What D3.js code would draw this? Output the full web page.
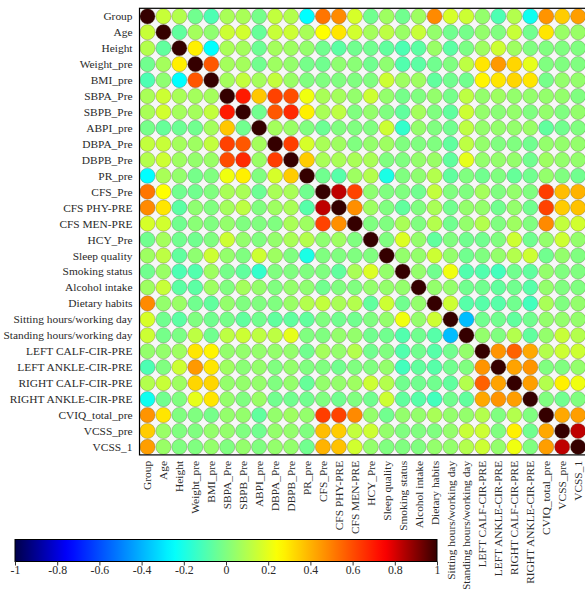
<!DOCTYPE html>
<html>
<head>
<meta charset="utf-8">
<script src="https://cdn.jsdelivr.net/npm/d3@7"></script>
<style>
  body { margin: 0; background: #fff; }
  text { font-family: "Liberation Serif", "Times New Roman", serif; fill: #2a2a2a; }
</style>
</head>
<body>
<svg id="chart" width="585" height="589"></svg>
<script>
// variables, in row / column order
const varNames = [
  "Group", "Age", "Height", "Weight_pre", "BMI_pre", "SBPA_Pre", "SBPB_Pre",
  "ABPI_pre", "DBPA_Pre", "DBPB_Pre", "PR_pre", "CFS_Pre", "CFS PHY-PRE",
  "CFS MEN-PRE", "HCY_Pre", "Sleep quality", "Smoking status", "Alcohol intake",
  "Dietary habits", "Sitting hours/working day", "Standing hours/working day",
  "LEFT CALF-CIR-PRE", "LEFT ANKLE-CIR-PRE", "RIGHT CALF-CIR-PRE",
  "RIGHT ANKLE-CIR-PRE", "CVIQ_total_pre", "VCSS_pre", "VCSS_1"
];

// upper triangle: row i holds r(i, j) for j = i+1 .. 27
const corrRows = [
  [0.14, 0.10, -0.03, -0.10, 0.08, 0.08, -0.02, 0.13, 0.10, -0.25, 0.52, 0.48, 0.17, -0.03, 0.06, -0.03, 0.06, 0.48, 0.17, 0.15, 0.04, -0.10, 0.10, -0.22, 0.46, 0.35, 0.44],
  [-0.06, 0.07, 0.03, 0.15, 0.16, -0.05, 0.14, 0.15, 0.08, 0.25, 0.30, 0.16, 0.07, 0.12, 0.05, 0.14, 0.04, -0.03, -0.02, 0.04, 0.00, 0.14, -0.03, 0.30, 0.05, 0.05],
  [0.28, -0.25, 0.08, 0.07, -0.04, 0.07, 0.06, 0.04, -0.03, -0.07, -0.03, -0.03, -0.06, -0.10, -0.07, 0.05, -0.07, -0.01, 0.06, 0.15, 0.06, 0.00, 0.00, 0.00, 0.00],
  [0.58, 0.07, 0.07, -0.03, 0.06, 0.04, -0.02, -0.03, 0.03, 0.02, -0.03, 0.03, -0.09, -0.07, -0.03, 0.00, 0.12, 0.30, 0.45, 0.33, 0.20, 0.00, 0.00, 0.00],
  [0.07, 0.13, 0.07, 0.13, 0.05, 0.00, 0.00, 0.00, 0.00, 0.00, 0.15, 0.06, 0.06, -0.06, -0.03, -0.03, 0.27, 0.30, 0.33, 0.30, -0.02, 0.04, 0.04],
  [0.70, 0.36, 0.62, 0.60, 0.22, 0.08, 0.07, 0.04, 0.15, 0.04, -0.02, 0.00, 0.04, -0.02, 0.12, 0.04, 0.06, 0.04, 0.04, 0.04, 0.04, 0.00],
  [-0.03, 0.58, 0.67, 0.28, 0.08, 0.12, 0.00, 0.04, 0.00, -0.06, 0.07, 0.00, -0.06, 0.15, 0.04, 0.02, 0.04, 0.00, 0.04, 0.00, 0.04],
  [0.07, 0.05, 0.00, -0.04, 0.00, 0.00, 0.00, 0.15, -0.15, 0.04, 0.00, -0.03, 0.12, 0.04, 0.04, 0.04, 0.05, -0.06, -0.03, 0.00],
  [0.63, 0.17, 0.08, 0.06, 0.00, 0.04, 0.06, 0.00, 0.00, 0.00, -0.06, 0.12, 0.04, 0.00, 0.00, -0.03, 0.04, 0.04, 0.04],
  [0.35, 0.08, 0.08, 0.08, 0.08, 0.00, 0.00, 0.04, 0.05, -0.06, 0.20, 0.04, 0.04, 0.04, -0.03, 0.06, 0.04, 0.04],
  [-0.03, -0.08, 0.06, 0.10, -0.20, 0.00, 0.03, 0.10, -0.06, 0.00, -0.03, 0.00, -0.05, -0.03, 0.04, 0.00, -0.03],
  [0.83, 0.62, 0.03, 0.00, 0.00, -0.03, 0.13, 0.00, 0.00, 0.07, 0.00, 0.04, 0.00, 0.63, 0.38, 0.40],
  [0.47, 0.06, 0.00, -0.06, 0.00, 0.08, -0.03, 0.04, 0.04, -0.03, 0.04, -0.03, 0.62, 0.35, 0.37],
  [0.00, 0.00, 0.08, 0.00, 0.10, -0.03, 0.04, 0.10, 0.00, 0.06, 0.00, 0.48, 0.13, 0.16],
  [0.00, 0.18, 0.04, -0.06, 0.00, -0.03, -0.03, 0.00, 0.15, -0.03, 0.04, 0.15, 0.04],
  [0.04, 0.04, 0.15, 0.04, -0.03, 0.00, 0.04, 0.10, 0.15, -0.03, 0.04, 0.00],
  [0.04, -0.03, 0.22, -0.09, -0.09, -0.12, -0.03, -0.06, 0.04, 0.00, 0.00],
  [0.04, 0.04, -0.03, -0.03, -0.06, -0.03, -0.08, 0.04, 0.00, 0.00],
  [0.15, -0.08, -0.08, -0.08, -0.03, -0.12, 0.08, 0.00, 0.04],
  [-0.38, -0.03, -0.03, -0.06, -0.03, 0.04, 0.04, 0.04],
  [0.04, 0.00, 0.10, -0.06, 0.04, 0.14, 0.10],
  [0.46, 0.56, 0.42, 0.10, 0.15, 0.15],
  [0.43, 0.46, 0.00, 0.00, 0.04],
  [0.44, 0.10, 0.28, 0.22],
  [0.00, -0.03, 0.00],
  [0.42, 0.44],
  [0.83]
];

// colour bar ticks
const colorTicks = [-1, -0.8, -0.6, -0.4, -0.2, 0, 0.2, 0.4, 0.6, 0.8, 1];

const svg = d3.select("#chart");
const n = varNames.length;

// full symmetric matrix
const cells = [];
for (let i = 0; i < n; i++) {
  for (let j = 0; j < n; j++) {
    let v = 1;
    if (j > i) v = corrRows[i][j - i - 1];
    if (j < i) v = corrRows[j][i - j - 1];
    cells.push({ i, j, v });
  }
}

// LAYOUT
const cell = 15.95;
const plotLeft = 139.5;
const plotTop = 8.3;

const x = d3.scaleBand().domain(d3.range(n)).range([plotLeft, plotLeft + n * cell]);
const y = d3.scaleBand().domain(d3.range(n)).range([plotTop, plotTop + n * cell]);

// jet-like colour map with dark ends
const color = d3.scaleLinear()
  .domain([-1, -0.75, -0.25, 0, 0.25, 0.75, 1])
  .range(["#00004a", "#0000ff", "#00ffff", "#80ff80", "#ffff00", "#ff0000", "#350000"])
  .clamp(true);

// plot background + circles
svg.append("rect")
  .attr("x", plotLeft).attr("y", plotTop)
  .attr("width", n * cell).attr("height", n * cell)
  .attr("fill", "#f7f7f7");

svg.append("g")
  .selectAll("circle")
  .data(cells)
  .join("circle")
    .attr("cx", d => x(d.j) + cell / 2)
    .attr("cy", d => y(d.i) + cell / 2)
    .attr("r", 7.6)
    .attr("fill", d => color(d.v))
    .attr("stroke", "rgba(90,90,60,0.45)")
    .attr("stroke-width", 0.7);

svg.append("rect")
  .attr("x", plotLeft).attr("y", plotTop)
  .attr("width", n * cell).attr("height", n * cell)
  .attr("fill", "none")
  .attr("stroke", "#000")
  .attr("stroke-width", 1.2);

// row labels
svg.append("g")
  .selectAll("text")
  .data(varNames)
  .join("text")
    .attr("x", plotLeft - 7)
    .attr("y", (d, i) => y(i) + cell / 2)
    .attr("dy", "0.35em")
    .attr("text-anchor", "end")
    .style("font-size", "11.4px")
    .text(d => d);

// column labels
svg.append("g")
  .selectAll("text")
  .data(varNames)
  .join("text")
    .attr("transform", (d, i) => `translate(${x(i) + cell / 2},${plotTop + n * cell + 6}) rotate(-90)`)
    .attr("dy", "0.35em")
    .attr("text-anchor", "end")
    .style("font-size", "11.4px")
    .text(d => d);

// COLOUR BAR
const cbX = d3.scaleLinear().domain([-1, 1]).range([15, 437]);
const cbTop = 539.5, cbH = 22;

const grad = svg.append("defs").append("linearGradient")
  .attr("id", "cbar").attr("x1", "0%").attr("x2", "100%");
grad.selectAll("stop")
  .data(d3.range(0, 1.0001, 0.02))
  .join("stop")
    .attr("offset", t => `${t * 100}%`)
    .attr("stop-color", t => color(t * 2 - 1));

svg.append("rect")
  .attr("x", cbX(-1)).attr("y", cbTop)
  .attr("width", cbX(1) - cbX(-1)).attr("height", cbH)
  .attr("fill", "url(#cbar)")
  .attr("stroke", "#000")
  .attr("stroke-width", 1);

const cbAxis = svg.append("g")
  .attr("transform", `translate(0,${cbTop + cbH})`)
  .call(d3.axisBottom(cbX).tickValues(colorTicks).tickSize(4).tickFormat(d => String(d)));
cbAxis.select(".domain").remove();
cbAxis.selectAll("line").attr("stroke", "#333");
cbAxis.selectAll("text")
  .style("font-family", "'Liberation Serif', serif")
  .style("font-size", "11.8px")
  .attr("fill", "#2a2a2a")
  .attr("y", 4.5);
</script>
</body>
</html>
